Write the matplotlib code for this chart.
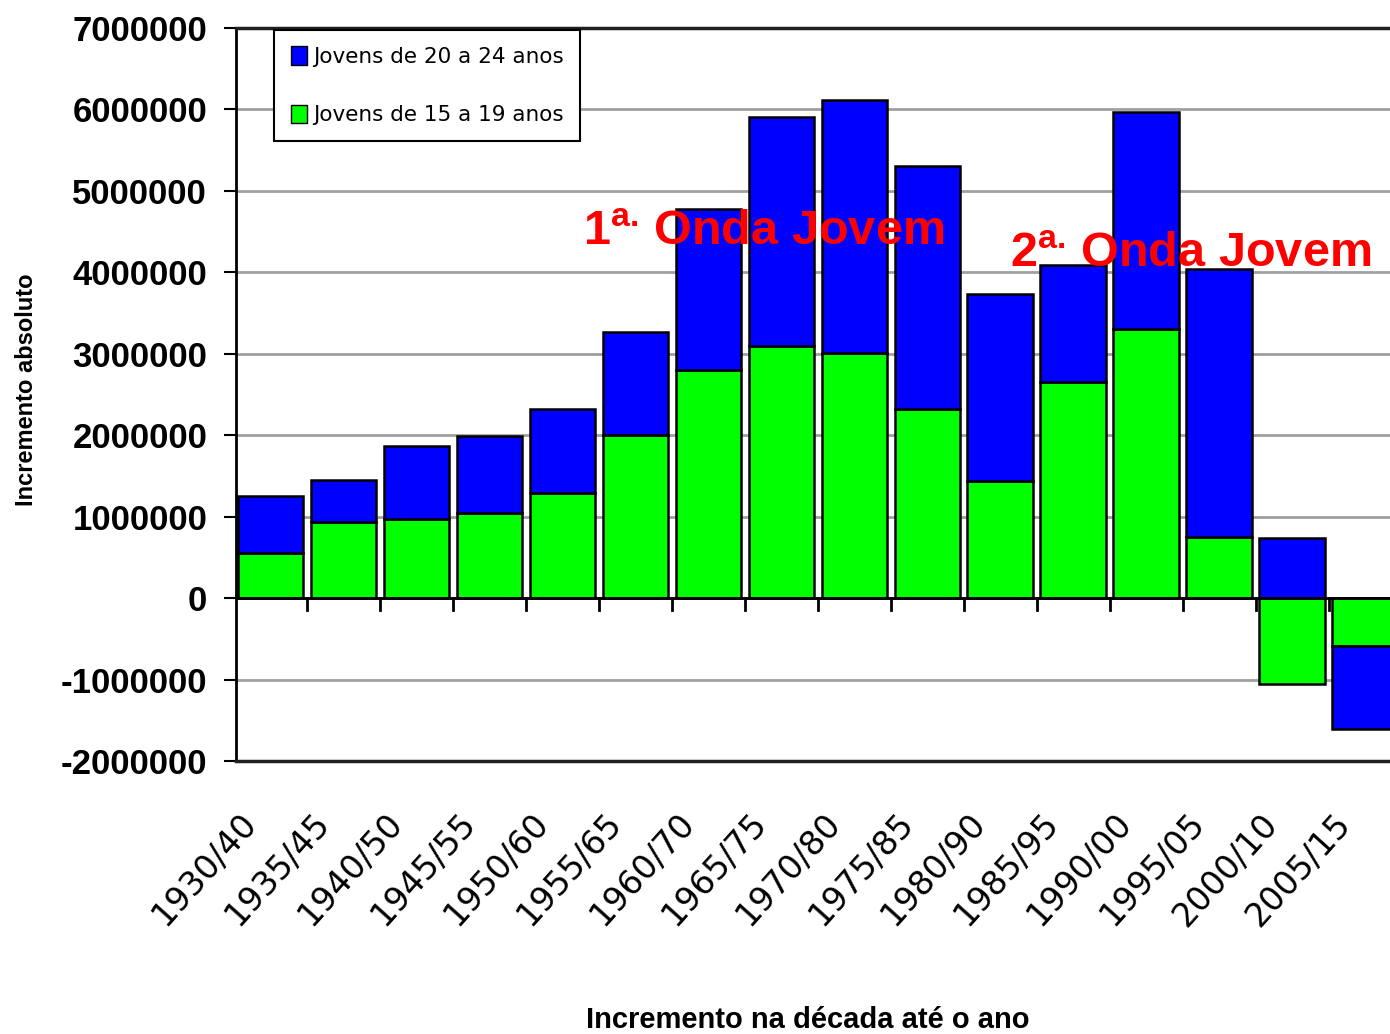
import matplotlib
matplotlib.use("Agg")
import matplotlib.pyplot as plt
import matplotlib.transforms as mtransforms
import numpy as np
from matplotlib.patches import Patch

plt.rcParams["mathtext.fontset"] = "custom"
plt.rcParams["mathtext.rm"] = "Liberation Sans:bold"
plt.rcParams["mathtext.it"] = "Liberation Sans:bold"
plt.rcParams["mathtext.bf"] = "Liberation Sans:bold"

categories = ["1930/40", "1935/45", "1940/50", "1945/55", "1950/60", "1955/65",
              "1960/70", "1965/75", "1970/80", "1975/85", "1980/90", "1985/95",
              "1990/00", "1995/05", "2000/10", "2005/15"]
jovens_15_19 = [550000, 930000, 970000, 1040000, 1290000, 2000000,
                2800000, 3090000, 3010000, 2320000, 1440000, 2650000,
                3300000, 750000, -1060000, -590000]
jovens_20_24 = [700000, 520000, 900000, 950000, 1030000, 1270000,
                1980000, 2820000, 3110000, 2990000, 2290000, 1440000,
                2670000, 3290000, 740000, -1020000]
yticks = list(range(-2000000, 7000001, 1000000))

fig = plt.figure(figsize=(13.9, 10.34), dpi=100)
ax = fig.add_axes([0.170, 0.264, 0.830, 0.709])

x = np.arange(len(categories))
g = np.array(jovens_15_19, dtype=float)
b = np.array(jovens_20_24, dtype=float)
g_bottom = np.zeros_like(g)
b_bottom = np.where(np.sign(b) == np.sign(g), g, 0.0)

ax.bar(x, g, bottom=g_bottom, width=0.9, color="#00ff00", edgecolor="black", linewidth=1.8, zorder=3)
ax.bar(x, b, bottom=b_bottom, width=0.9, color="#0000ff", edgecolor="black", linewidth=1.8, zorder=3)

ax.set_xlim(-0.47, 15.34)
ax.set_ylim(-2000000, 7000000)
ax.set_yticks(yticks)
ax.set_yticklabels([str(v) for v in yticks], fontsize=25, fontweight="bold", family="Liberation Sans")
ax.yaxis.grid(True, color="#a0a0a0", linewidth=2, zorder=0)
ax.tick_params(axis="y", direction="out", length=9, width=1.5, pad=12)

ax.axhline(0, color="black", linewidth=2, zorder=4)
for bd in x[:-1] + 0.5:
    ax.plot([bd, bd], [0, -150000], color="black", linewidth=2, zorder=4, clip_on=False)

ax.set_xticks(x)
ax.set_xticklabels(categories, rotation=48, ha="right", va="center", rotation_mode="anchor",
                   fontsize=24, family="DejaVu Sans")
ax.tick_params(axis="x", length=0, pad=0)
offset = mtransforms.ScaledTranslation(-0.2, -0.57, fig.dpi_scale_trans)
for lab in ax.get_xticklabels():
    lab.set_transform(lab.get_transform() + offset)

for s in ["top", "bottom"]:
    ax.spines[s].set_color("#202020")
    ax.spines[s].set_linewidth(2.5)
ax.spines["left"].set_linewidth(2)
ax.spines["right"].set_visible(False)

ax.set_ylabel("Incremento absoluto", fontsize=17, fontweight="bold", family="Liberation Sans")
ax.yaxis.set_label_coords(-0.172, 0.507)
fig.text(0.581, 0.0, "Incremento na década até o ano", fontsize=21, fontweight="bold",
         ha="center", va="bottom", family="Liberation Sans")

handles = [Patch(facecolor="#0000ff", edgecolor="black", label="Jovens de 20 a 24 anos"),
           Patch(facecolor="#00ff00", edgecolor="black", label="Jovens de 15 a 19 anos")]
leg = ax.legend(handles=handles, loc="upper left", bbox_to_anchor=(0.033, 0.997), fontsize=15.5,
                frameon=True, fancybox=False, edgecolor="black", framealpha=1,
                handlelength=0.75, handleheight=0.95, handletextpad=0.3, labelspacing=1.75,
                borderpad=0.75, borderaxespad=0)
leg.get_frame().set_linewidth(1.5)
leg.set_zorder(6)

ax.text(4.28, 4330000, "1$^{\\mathrm{a.}}\\,$Onda Jovem", color="red", fontsize=35, fontweight="bold",
        family="Liberation Sans", ha="left", va="baseline", zorder=7)
ax.text(10.13, 4060000, "2$^{\\mathrm{a.}}\\,$Onda Jovem", color="red", fontsize=35, fontweight="bold",
        family="Liberation Sans", ha="left", va="baseline", zorder=7)

fig.savefig("out.png", dpi=100)
